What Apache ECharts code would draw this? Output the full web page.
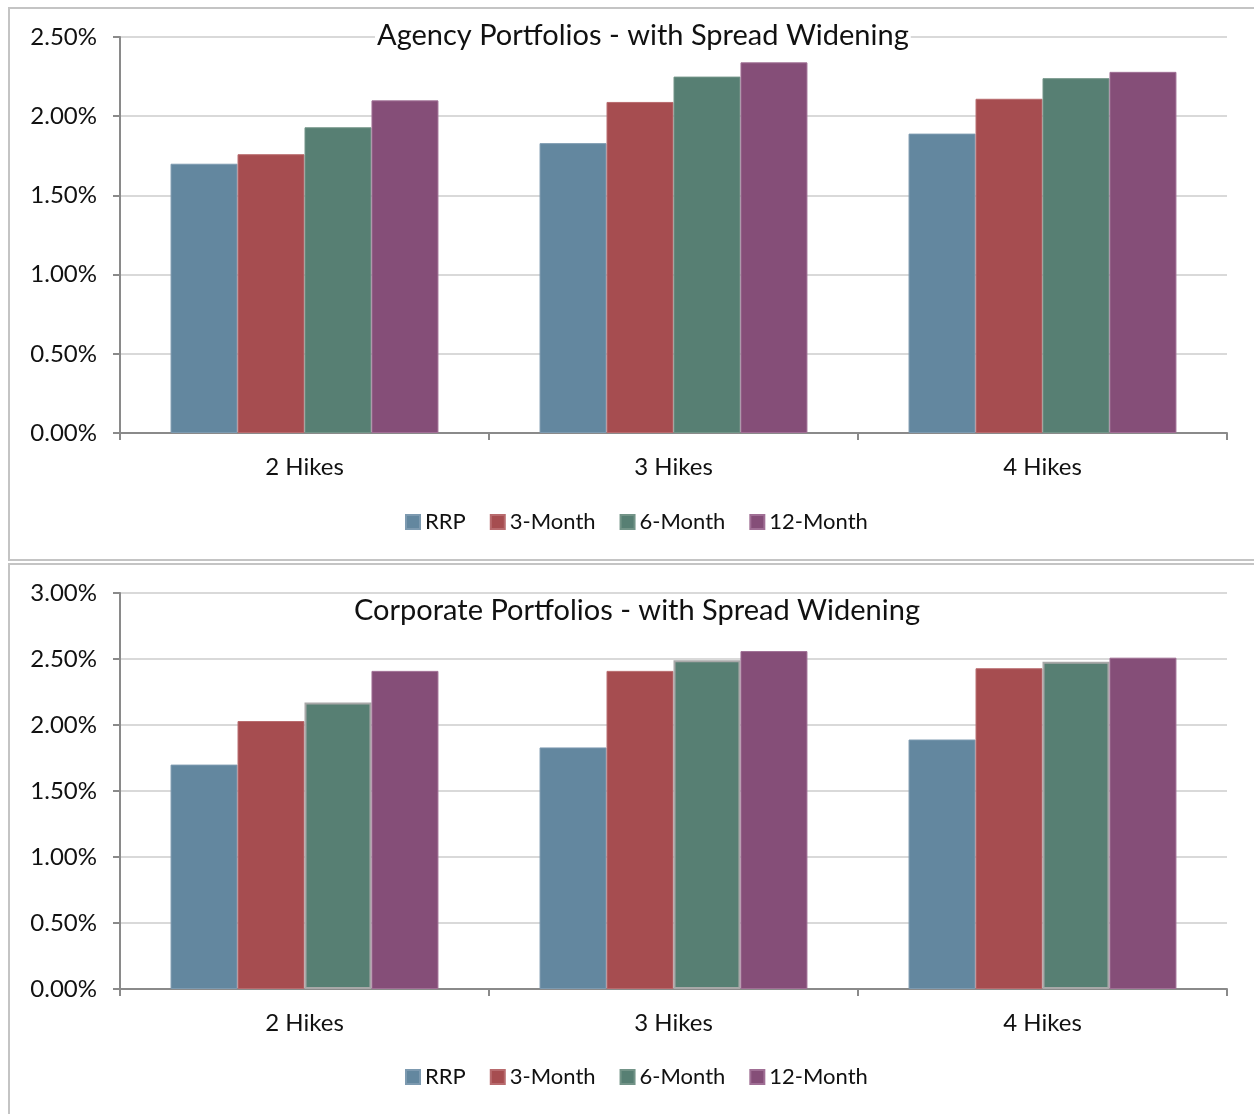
<!DOCTYPE html>
<html>
<head>
<meta charset="utf-8">
<title>Portfolios - with Spread Widening</title>
<script src="https://cdn.jsdelivr.net/npm/echarts@6/dist/echarts.min.js"></script>
<style>
  html, body { margin: 0; padding: 0; background: #ffffff; }
  #chart { width: 1254px; height: 1114px; }
</style>
</head>
<body>
<div id="chart"></div>
<script>
// Scenario categories and horizons
const categories = ['2 Hikes', '3 Hikes', '4 Hikes'];
const seriesNames = ['RRP', '3-Month', '6-Month', '12-Month'];
const seriesColors = ['#63879f', '#a64d50', '#577f73', '#854e78'];

// Agency portfolios (%), one array per horizon
const agencyRRP = [1.70, 1.83, 1.89];
const agency3M = [1.76, 2.09, 2.11];
const agency6M = [1.93, 2.25, 2.24];
const agency12M = [2.10, 2.34, 2.28];

// Corporate portfolios (%), one array per horizon
const corpRRP = [1.70, 1.83, 1.89];
const corp3M = [2.03, 2.41, 2.43];
const corp6M = [2.17, 2.49, 2.48];
const corp12M = [2.41, 2.56, 2.51];

// Axis settings
const agencyAxisMax = 2.5;
const corpAxisMax = 3.0;
const axisStep = 0.5;

const FONT = 'Lato, "Noto Sans", sans-serif';
const TEXT = '#111111';

const agencyData = [agencyRRP, agency3M, agency6M, agency12M];
const corpData = [corpRRP, corp3M, corp6M, corp12M];

function makeXAxis(gridIndex) {
  return {
    type: 'category', gridIndex, data: categories,
    axisLine: { lineStyle: { color: '#8a8a8a', width: 2 } },
    axisTick: { show: true, length: 7, lineStyle: { color: '#8a8a8a', width: 2 } },
    axisLabel: { color: TEXT, fontFamily: FONT, fontSize: 24, margin: 22 },
    splitLine: { show: false }
  };
}
function makeYAxis(gridIndex, max) {
  return {
    type: 'value', gridIndex, min: 0, max, interval: axisStep,
    axisLine: { show: true, lineStyle: { color: '#8a8a8a', width: 2 } },
    axisTick: { show: true, length: 7, lineStyle: { color: '#8a8a8a', width: 2 } },
    axisLabel: { color: TEXT, fontFamily: FONT, fontSize: 24, margin: 23,
      formatter: v => v.toFixed(2) + '%' },
    splitLine: { show: true, lineStyle: { color: '#d9d9d9', width: 2 } }
  };
}
function makeSeries(data, axisIndex, borderColors, borderWidths) {
  return seriesNames.map((name, i) => ({
    name, type: 'bar', xAxisIndex: axisIndex, yAxisIndex: axisIndex,
    data: data[i], barGap: '0%', barCategoryGap: '27.4%',
    itemStyle: { color: seriesColors[i], borderColor: borderColors[i], borderWidth: borderWidths[i] },
    emphasis: { disabled: true }
  }));
}
function makeLegend(top) {
  return {
    top, left: 400, data: seriesNames, icon: 'rect',
    itemWidth: 14, itemHeight: 14, itemGap: 24,
    textStyle: { color: TEXT, fontFamily: FONT, fontSize: 22 },
    selectedMode: false
  };
}

const lightBorders = ['#7d9ab0', '#b86b6e', '#739488', '#a06f95'];
const option = {
  animation: false,
  backgroundColor: '#ffffff',
  title: [
    { text: 'Agency Portfolios - with Spread Widening', left: 375, top: 21,
      backgroundColor: '#ffffff', padding: [0, 2],
      textStyle: { color: TEXT, fontFamily: FONT, fontSize: 29, fontWeight: 'normal' } },
    { text: 'Corporate Portfolios - with Spread Widening', left: 352, top: 596,
      padding: [0, 2],
      textStyle: { color: TEXT, fontFamily: FONT, fontSize: 29, fontWeight: 'normal' } }
  ],
  legend: [makeLegend(506), makeLegend(1061)],
  grid: [
    { left: 120, right: 27, top: 37, height: 396 },
    { left: 120, right: 27, top: 593, height: 396 }
  ],
  xAxis: [makeXAxis(0), makeXAxis(1)],
  yAxis: [makeYAxis(0, agencyAxisMax), makeYAxis(1, corpAxisMax)],
  series: [
    ...makeSeries(agencyData, 0, lightBorders, [1, 1, 1, 1]),
    ...makeSeries(corpData, 1, [lightBorders[0], lightBorders[1], '#a8a8a8', lightBorders[3]], [1, 1, 2, 1])
  ],
  graphic: [
    { type: 'rect', shape: { x: 9, y: 8, width: 1270, height: 552 },
      style: { fill: 'none', stroke: '#c4c4c4', lineWidth: 2 }, silent: true },
    { type: 'rect', shape: { x: 9, y: 564, width: 1270, height: 580 },
      style: { fill: 'none', stroke: '#c4c4c4', lineWidth: 2 }, silent: true }
  ]
};

const chart = echarts.init(document.getElementById('chart'), null, { renderer: 'canvas' });
chart.setOption(option);
</script>
</body>
</html>
